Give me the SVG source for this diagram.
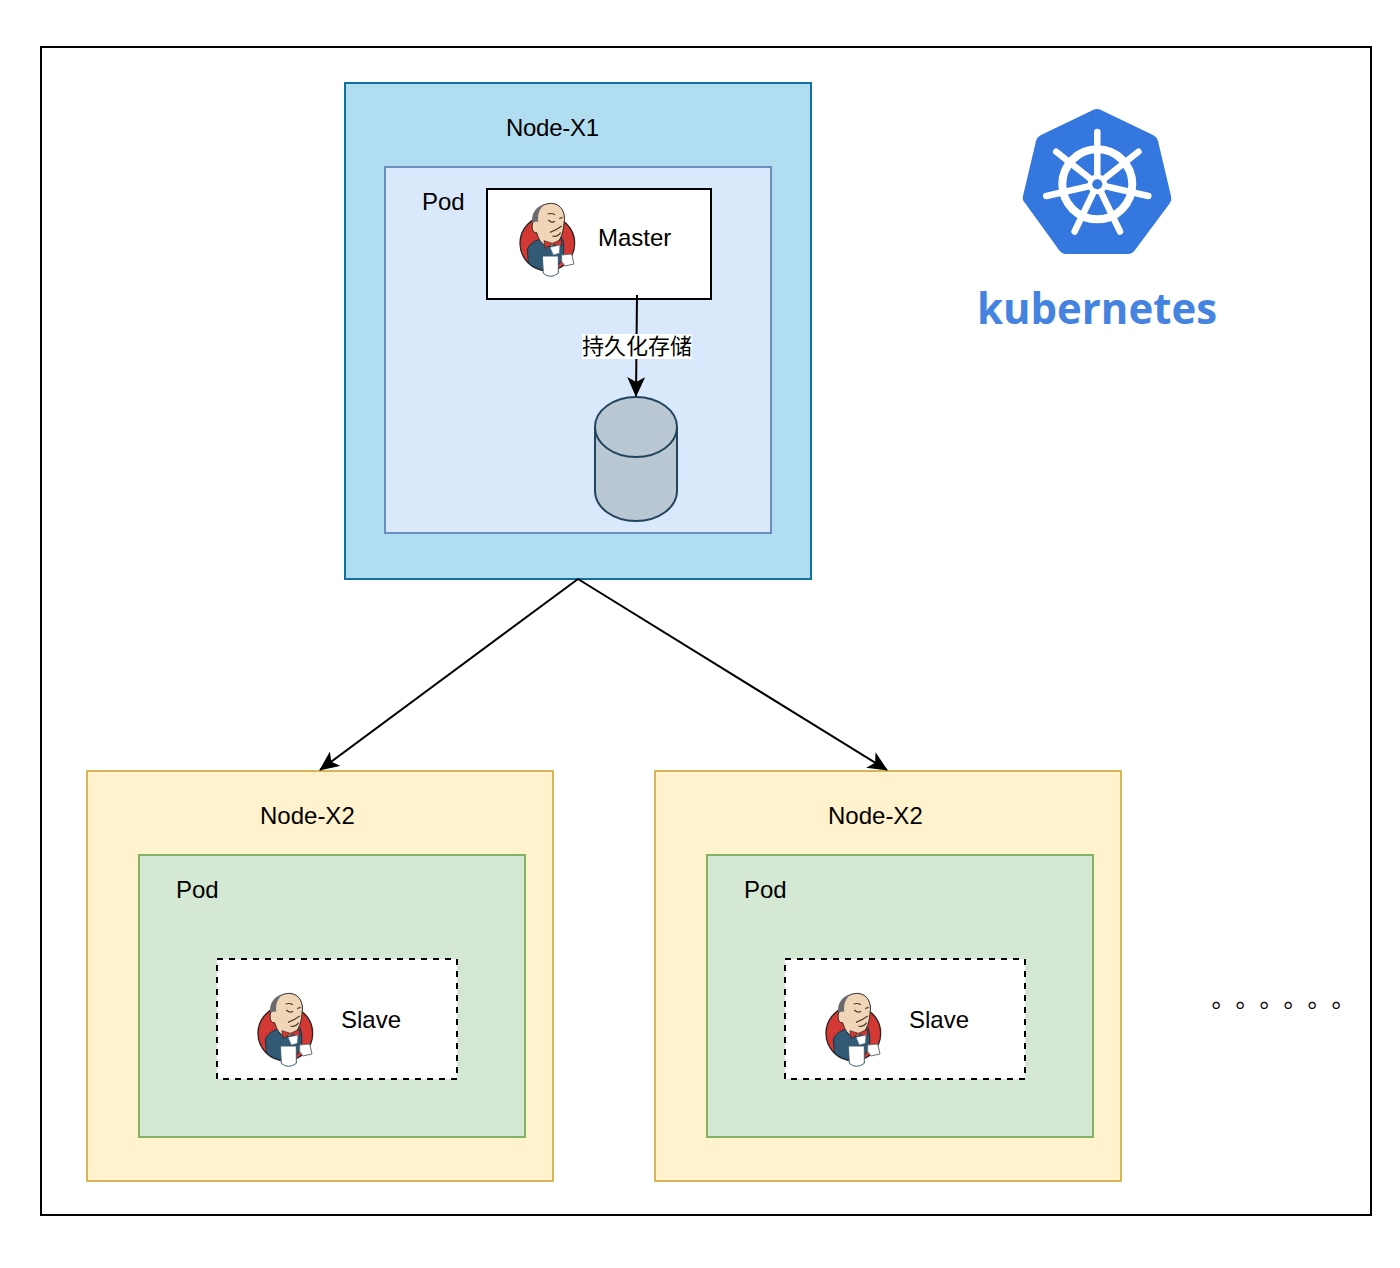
<svg xmlns="http://www.w3.org/2000/svg" width="1400" height="1268" viewBox="0 0 1400 1268">
<style>
text{font-family:"Liberation Sans","Noto Sans CJK SC",sans-serif;font-size:24px;fill:#000}
.box{stroke-width:2}
.wheel{fill:none;stroke:#fff;stroke-linecap:round}
</style>
<defs>
<marker id="arrow" markerUnits="userSpaceOnUse" viewBox="0 0 20 18" refX="19" refY="9" markerWidth="20" markerHeight="18" orient="auto"><path d="M0 0L20 9L0 18L5 9Z" fill="#000"/></marker>
<g id="jenkins" transform="translate(500 190) scale(.3333)">
<circle cx="142" cy="160" r="82" fill="#d33833" stroke="#2c2424" stroke-width="4"/>
<path d="M82 178C95 150 120 145 135 150L185 142C195 160 190 190 190 205L175 225L128 240C105 235 90 225 85 215Z" fill="#335a75" stroke="#1e2f3b" stroke-width="3"/>
<path d="M100 90C105 55 130 40 155 40C185 42 198 70 192 100C190 130 180 165 150 170C125 170 115 145 110 128C98 130 92 115 100 90Z" fill="#f0d6b7" stroke="#2c2424" stroke-width="3"/>
<path d="M97 100C92 70 110 48 135 42C118 55 112 75 115 95L105 95Z" fill="#6d6b6d"/>
<path d="M132 152L157 160L185 148L185 168L157 163L135 175Z" fill="#d33833" stroke="#2c2424" stroke-width="2"/>
<path d="M150 172L180 165L178 190L160 195Z" fill="#fff" stroke="#49728b" stroke-width="2"/>
<path d="M127 198L175 198L175 250Q150 268 130 250Z" fill="#fff" stroke="#3a5a70" stroke-width="3"/>
<path d="M185 195L215 192L222 222L195 228L185 215Z" fill="#fff" stroke="#6d6b6d" stroke-width="3"/>
<path d="M145 90Q155 100 165 94M178 86L188 82M143 72Q155 68 165 74M150 127Q170 120 185 108M157 138Q172 142 182 128" fill="none" stroke="#4d3a2c" stroke-width="3.5"/>
</g>
</defs>
<rect id="frame" x="41" y="47" width="1330" height="1168" fill="#fff" stroke="#000" stroke-width="2"/>
<g id="node-x1">
<rect class="box" x="345" y="83" width="466" height="496" fill="#b1ddf0" stroke="#10739e"/>
<text x="506" y="136" textLength="93">Node-X1</text>
</g>
<g id="pod-x1">
<rect class="box" x="385" y="167" width="386" height="366" fill="#dae8fc" stroke="#6c8ebf"/>
<text x="422" y="210">Pod</text>
</g>
<g id="master">
<rect class="box" x="487" y="189" width="224" height="110" fill="#fff" stroke="#000"/>
<use href="#jenkins"/>
<text x="598" y="246">Master</text>
</g>
<g id="storage">
<path d="M595 427A41 30 0 0 1 677 427V491A41 30 0 0 1 595 491Z" fill="#bac8d3" stroke="#23445d" stroke-width="2"/>
<path d="M595 427A41 30 0 0 0 677 427" fill="none" stroke="#23445d" stroke-width="2"/>
</g>
<g id="node-x2-a">
<rect class="box" x="87" y="771" width="466" height="410" fill="#fff2cc" stroke="#d6b656"/>
<text x="260" y="824">Node-X2</text>
</g>
<g id="pod-x2-a">
<rect class="box" x="139" y="855" width="386" height="282" fill="#d5e8d4" stroke="#82b366"/>
<text x="176" y="898">Pod</text>
</g>
<g id="slave-a">
<rect class="box" x="217" y="959" width="240" height="120" fill="#fff" stroke="#000" stroke-dasharray="6 6"/>
<g transform="translate(-262 790)"><use href="#jenkins"/></g>
<text x="341" y="1028">Slave</text>
</g>
<g id="node-x2-b">
<rect class="box" x="655" y="771" width="466" height="410" fill="#fff2cc" stroke="#d6b656"/>
<text x="828" y="824">Node-X2</text>
</g>
<g id="pod-x2-b">
<rect class="box" x="707" y="855" width="386" height="282" fill="#d5e8d4" stroke="#82b366"/>
<text x="744" y="898">Pod</text>
</g>
<g id="slave-b">
<rect class="box" x="785" y="959" width="240" height="120" fill="#fff" stroke="#000" stroke-dasharray="6 6"/>
<g transform="translate(306 790)"><use href="#jenkins"/></g>
<text x="909" y="1028">Slave</text>
</g>
<g id="kubernetes-logo">
<path d="M1097 109Q1100 109 1103 111L1153 135Q1157 137 1158 141L1171 196Q1172 200 1170 203L1135 250Q1132 254 1128 254L1066 254Q1062 254 1059 250L1025 203Q1022 200 1023 196L1036 141Q1037 137 1041 135L1091 111Q1094 109 1097 109Z" fill="#3477de"/>
<circle class="wheel" cx="1097.3" cy="184.3" r="35" stroke-width="8"/>
<g class="wheel" stroke-width="6.5">
<path d="M1097.3 184.3V132"/>
<path d="M1097.3 184.3L1138.4 151.7"/>
<path d="M1097.3 184.3L1148.3 196"/>
<path d="M1097.3 184.3L1120 231.5"/>
<path d="M1097.3 184.3L1074.6 231.5"/>
<path d="M1097.3 184.3L1046.3 196"/>
<path d="M1097.3 184.3L1056.2 151.7"/>
</g>
<circle cx="1097.3" cy="184.3" r="10" fill="#fff"/>
<circle cx="1097.3" cy="184.3" r="5" fill="#3477de"/>
<text x="977" y="324" style="font-family:'Open Sans',sans-serif;font-weight:700;font-size:43px;fill:#4583e0" textLength="240" lengthAdjust="spacingAndGlyphs">kubernetes</text>
</g>
<g id="connectors" fill="none" stroke="#000" stroke-width="2">
<path d="M637 295L636 396" marker-end="url(#arrow)"/>
<path d="M578 579L320 770" marker-end="url(#arrow)"/>
<path d="M578 579L887 770" marker-end="url(#arrow)"/>
</g>
<g id="connector-label">
<rect x="582" y="334" width="110" height="25" fill="#fff"/>
<text x="582" y="354" style="font-size:22px">持久化存储</text>
</g>
<text id="ellipsis" x="1211.5 1235.5 1259.5 1283.5 1307.5 1331.5" y="1007">。。。。。。</text>
</svg>
